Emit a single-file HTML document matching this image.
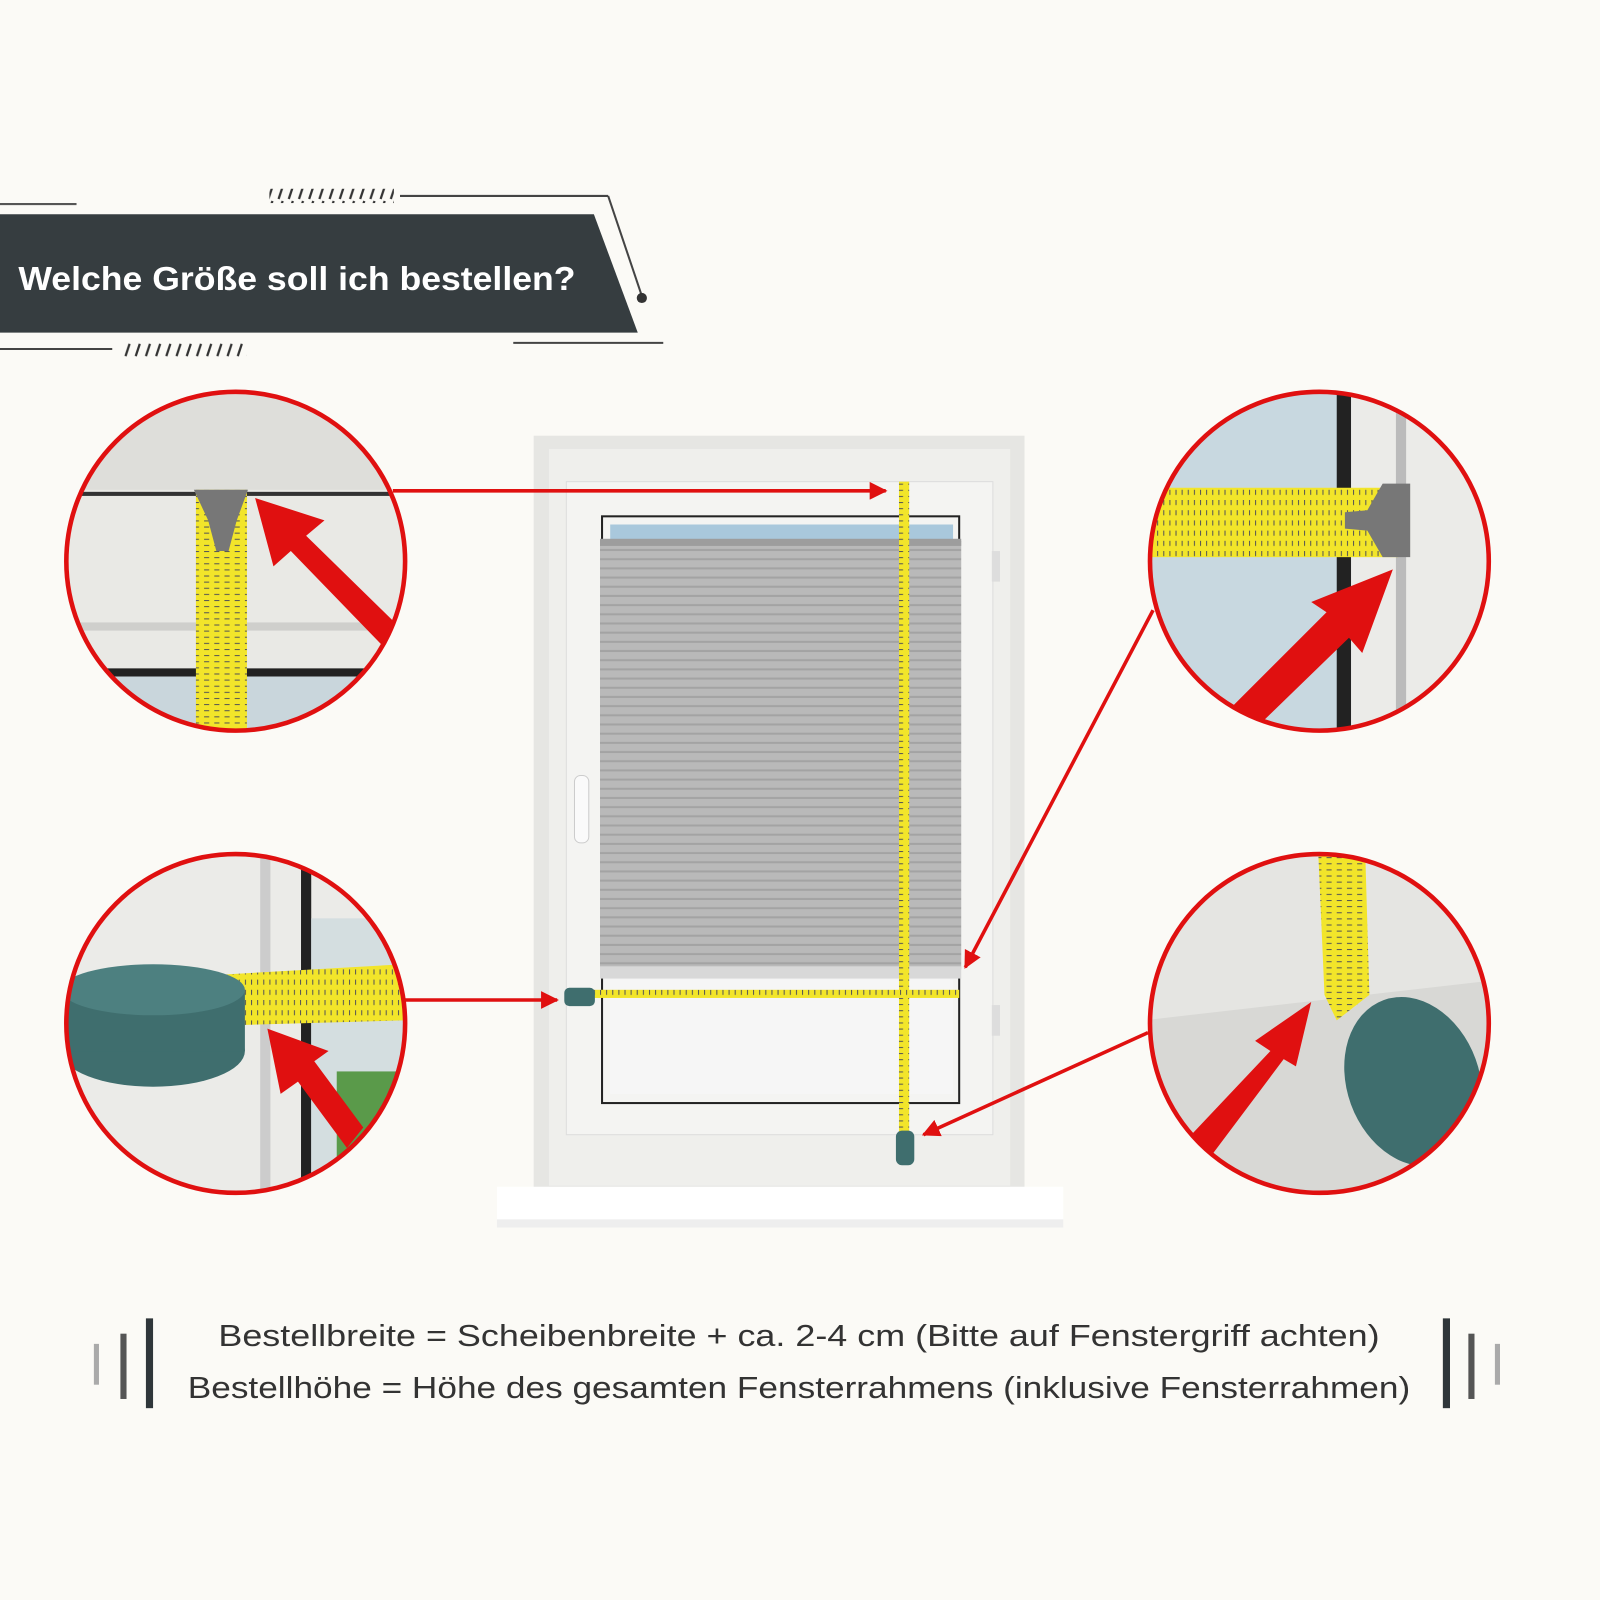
<!DOCTYPE html>
<html><head><meta charset="utf-8"><style>html,body{margin:0;padding:0;background:#fbfaf6}svg{display:block}</style></head><body>
<svg width="1600" height="1600" viewBox="0 0 1568 1568" xmlns="http://www.w3.org/2000/svg" font-family="Liberation Sans, sans-serif">
<defs>
<marker id="ah" viewBox="0 0 10 10" refX="9" refY="5" markerWidth="5" markerHeight="5" orient="auto"><path d="M0,0L10,5L0,10z" fill="#e01010"/></marker>
<pattern id="pl" width="10" height="9" patternUnits="userSpaceOnUse"><rect width="10" height="9" fill="#b9b9b9"/><rect y="7" width="10" height="2" fill="#a3a3a3"/></pattern>
<pattern id="tk" width="6" height="10" patternUnits="userSpaceOnUse"><rect width="6" height="10" fill="#f2e52a"/><rect width="1" height="5" fill="#555"/></pattern>
<pattern id="tkv" width="10" height="6" patternUnits="userSpaceOnUse"><rect width="10" height="6" fill="#f2e52a"/><rect width="5" height="1" fill="#555"/></pattern>
<pattern id="sl" width="10" height="14" patternUnits="userSpaceOnUse"><line x1="3" y1="13" x2="7" y2="1" stroke="#333" stroke-width="2.2"/></pattern>
<clipPath id="c1"><circle cx="231" cy="550" r="166"/></clipPath>
<clipPath id="c2"><circle cx="1293" cy="550" r="166"/></clipPath>
<clipPath id="c3"><circle cx="231" cy="1003" r="166"/></clipPath>
<clipPath id="c4"><circle cx="1293" cy="1003" r="166"/></clipPath>
</defs>
<rect width="1568" height="1568" fill="#fbfaf6"/>
<!-- banner -->
<line x1="0" y1="200" x2="75" y2="200" stroke="#555" stroke-width="2"/>
<rect x="264" y="185" width="122" height="14" fill="url(#sl)"/>
<line x1="392" y1="192" x2="596" y2="192" stroke="#444" stroke-width="2"/>
<line x1="596" y1="192" x2="629" y2="290" stroke="#444" stroke-width="2"/>
<circle cx="629" cy="292" r="5" fill="#333"/>
<polygon points="0,210 582,210 625,326 0,326" fill="#363d40"/>
<text x="18" y="284" font-size="33" font-weight="bold" fill="#fff" textLength="546" lengthAdjust="spacingAndGlyphs">Welche Größe soll ich bestellen?</text>
<line x1="0" y1="342" x2="110" y2="342" stroke="#444" stroke-width="2"/>
<rect x="120" y="336" width="122" height="14" fill="url(#sl)"/>
<line x1="503" y1="336" x2="650" y2="336" stroke="#444" stroke-width="2"/>
<!-- window -->
<rect x="523" y="427" width="481" height="740" fill="#e6e6e3"/>
<rect x="538" y="440" width="452" height="722" fill="#efefec"/>
<rect x="555" y="472" width="418" height="640" fill="#f4f4f2" stroke="#ddd"/>
<rect x="590" y="506" width="350" height="575" fill="none" stroke="#222" stroke-width="2"/>
<rect x="598" y="514" width="336" height="18" fill="#a9c8dc"/>
<rect x="588" y="530" width="354" height="420" fill="url(#pl)"/>
<rect x="588" y="528" width="354" height="7" fill="#9d9d9d"/>
<rect x="588" y="947" width="354" height="12" fill="#d8d8d8"/>
<rect x="598" y="960" width="336" height="112" fill="#f6f6f6"/>
<rect x="563" y="760" width="14" height="66" rx="6" fill="#fafafa" stroke="#ccc"/>
<rect x="972" y="540" width="8" height="30" fill="#ddd"/><rect x="972" y="985" width="8" height="30" fill="#ddd"/>
<rect x="487" y="1163" width="555" height="32" fill="#fff"/>
<rect x="487" y="1195" width="555" height="8" fill="#eee"/>
<!-- tapes -->
<rect x="881" y="472" width="10" height="640" fill="url(#tkv)"/>
<rect x="560" y="970" width="380" height="8" fill="url(#tk)"/>
<rect x="553" y="968" width="30" height="18" rx="5" fill="#3f6e6e"/>
<rect x="878" y="1108" width="18" height="34" rx="6" fill="#3f6e6e"/>
<!-- connectors -->
<g stroke="#e01010" stroke-width="3.5" fill="none" marker-end="url(#ah)">
<line x1="385" y1="481" x2="868" y2="481"/>
<line x1="1130" y1="598" x2="946" y2="948"/>
<line x1="397" y1="980" x2="546" y2="980"/>
<line x1="1125" y1="1012" x2="905" y2="1112"/>
</g>
<!-- circle 1 -->
<g clip-path="url(#c1)">
<rect x="60" y="380" width="340" height="340" fill="#e9e9e5"/>
<rect x="60" y="380" width="340" height="100" fill="#dededa"/>
<rect x="60" y="482" width="340" height="4" fill="#333"/>
<rect x="60" y="610" width="340" height="8" fill="#cfcfcc"/>
<rect x="60" y="655" width="340" height="8" fill="#222"/>
<rect x="60" y="663" width="340" height="60" fill="#c9d6dc"/>
<rect x="192" y="480" width="50" height="240" fill="url(#tkv)"/>
<polygon points="190,480 243,480 232,510 224,540 212,540 204,510" fill="#777"/>
<polygon points="395,618 300,525 318,510 250,488 268,555 285,540 378,636" fill="#e01010"/>
</g>
<circle cx="231" cy="550" r="166" fill="none" stroke="#e01010" stroke-width="4.5"/>
<!-- circle 2 -->
<g clip-path="url(#c2)">
<rect x="1120" y="380" width="350" height="340" fill="#ebebe8"/>
<rect x="1120" y="380" width="200" height="340" fill="#c8d8e0"/>
<rect x="1310" y="380" width="14" height="340" fill="#222"/>
<rect x="1368" y="380" width="10" height="340" fill="#bbb"/>
<rect x="1120" y="478" width="250" height="68" fill="url(#tk)"/>
<polygon points="1355,474 1382,474 1382,546 1355,546 1340,520 1318,518 1318,502 1340,500" fill="#777"/>
<polygon points="1200,700 1300,600 1285,590 1365,558 1335,640 1322,625 1222,722" fill="#e01010"/>
</g>
<circle cx="1293" cy="550" r="166" fill="none" stroke="#e01010" stroke-width="4.5"/>
<!-- circle 3 -->
<g clip-path="url(#c3)">
<rect x="60" y="835" width="340" height="340" fill="#ebebe8"/>
<rect x="255" y="835" width="10" height="340" fill="#ccc"/>
<rect x="295" y="850" width="10" height="320" fill="#222"/>
<rect x="305" y="900" width="100" height="270" fill="#d4dee0"/>
<rect x="330" y="1050" width="80" height="120" fill="#5a9a4a"/>
<polygon points="220,955 395,945 395,1000 220,1005" fill="url(#tk)"/>
<ellipse cx="150" cy="1030" rx="90" ry="35" fill="#3f6e6e"/>
<rect x="60" y="970" width="180" height="60" fill="#3f6e6e"/>
<ellipse cx="150" cy="970" rx="90" ry="25" fill="#4d8080"/>
<polygon points="340,1125 292,1060 275,1072 262,1008 322,1030 308,1040 356,1105" fill="#e01010"/>
</g>
<circle cx="231" cy="1003" r="166" fill="none" stroke="#e01010" stroke-width="4.5"/>
<!-- circle 4 -->
<g clip-path="url(#c4)">
<rect x="1120" y="835" width="350" height="340" fill="#e5e5e2"/>
<polygon points="1120,1000 1470,960 1470,1175 1120,1175" fill="#d8d8d5"/>
<polygon points="1292,838 1338,838 1342,975 1310,1000 1298,975" fill="url(#tkv)"/>
<ellipse cx="1385" cy="1060" rx="65" ry="85" fill="#3f6e6e" transform="rotate(-20 1385 1060)"/>
<polygon points="1160,1120 1245,1030 1230,1020 1285,982 1270,1045 1258,1038 1180,1142" fill="#e01010"/>
</g>
<circle cx="1293" cy="1003" r="166" fill="none" stroke="#e01010" stroke-width="4.5"/>
<!-- bottom text -->
<rect x="92" y="1317" width="5" height="40" fill="#aaa"/>
<rect x="118" y="1307" width="6" height="64" fill="#555"/>
<rect x="143" y="1292" width="7" height="88" fill="#2f363a"/>
<rect x="1414" y="1292" width="7" height="88" fill="#2f363a"/>
<rect x="1439" y="1307" width="6" height="64" fill="#555"/>
<rect x="1465" y="1317" width="5" height="40" fill="#aaa"/>
<text x="783" y="1319" font-size="30" fill="#333" text-anchor="middle" textLength="1138" lengthAdjust="spacingAndGlyphs">Bestellbreite = Scheibenbreite + ca. 2-4 cm (Bitte auf Fenstergriff achten)</text>
<text x="783" y="1370" font-size="30" fill="#333" text-anchor="middle" textLength="1198" lengthAdjust="spacingAndGlyphs">Bestellhöhe = Höhe des gesamten Fensterrahmens (inklusive Fensterrahmen)</text>
</svg>
</body></html>
